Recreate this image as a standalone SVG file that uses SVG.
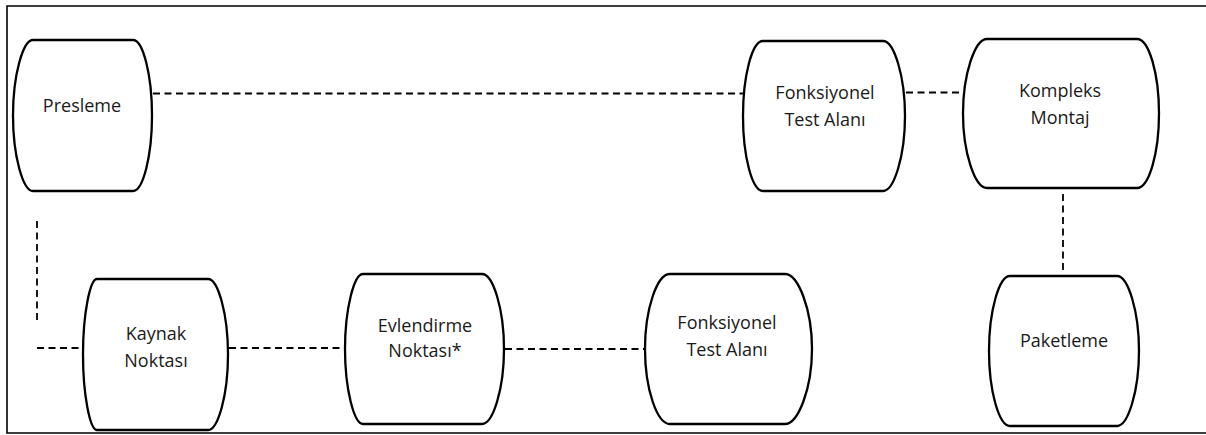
<svg xmlns="http://www.w3.org/2000/svg" width="1206" height="435" viewBox="0 0 1206 435">
<style>
.node{fill:#fff;stroke:#000;stroke-width:2.3;stroke-linejoin:round}
.lbl{font-family:"Open Sans","Noto Sans","Liberation Sans",sans-serif;font-size:18px;fill:#1a1a1a;text-anchor:middle}
.con{fill:none;stroke:#000;stroke-width:1.8;stroke-dasharray:7 4.5}
</style>
<rect x="0" y="0" width="1206" height="435" fill="#fff"/>
<path d="M1210,6 H7 V433 H1210" fill="none" stroke="#000" stroke-width="1.6"/>
<g id="connectors">
<path class="con" d="M153,93.5 H743"/>
<path class="con" d="M906,92.5 H963"/>
<path class="con" d="M1063,194 V273"/>
<path class="con" d="M37,221 V320"/>
<path class="con" d="M37,348 H83"/>
<path class="con" d="M229,348 H345"/>
<path class="con" d="M505,349 H645"/>
</g>
<g id="presleme">
<path class="node" d="M33,40 H133 C143,40 152,75 152,115.5 C152,156 143,191 133,191 H33 C23,191 13,156 13,115.5 C13,75 23,40 33,40 Z"/>
<text class="lbl" x="82" y="112">Presleme</text>
</g>
<g id="fonksiyonel1">
<path class="node" d="M763,41 H883 C894,41 905,76 905,116 C905,156 894,191 883,191 H763 C752,191 743,156 743,116 C743,76 752,41 763,41 Z"/>
<text class="lbl" x="825" y="98.5">Fonksiyonel</text>
<text class="lbl" x="825" y="126">Test Alanı</text>
</g>
<g id="kompleks">
<path class="node" d="M987,39 H1137 C1149,39 1159,74 1159,113.5 C1159,153 1149,188 1137,188 H987 C975,188 963,153 963,113.5 C963,74 975,39 987,39 Z"/>
<text class="lbl" x="1060" y="96.7">Kompleks</text>
<text class="lbl" x="1060" y="124">Montaj</text>
</g>
<g id="paketleme">
<path class="node" d="M1010,276 H1117 C1128,276 1139,311 1139,351 C1139,391 1128,426 1117,426 H1010 C999,426 989,391 989,351 C989,311 999,276 1010,276 Z"/>
<text class="lbl" x="1064" y="346.5">Paketleme</text>
</g>
<g id="kaynak">
<path class="node" d="M97,279 H208 C218,279 228,314 228,354.5 C228,395 218,430 208,430 H97 C90,430 83,395 83,354.5 C83,314 90,279 97,279 Z"/>
<text class="lbl" x="156" y="340">Kaynak</text>
<text class="lbl" x="156" y="366.5">Noktası</text>
</g>
<g id="evlendirme">
<path class="node" d="M363,274 H482 C493,274 504,309 504,349 C504,389 493,424 482,424 H363 C354,424 345,389 345,349 C345,309 354,274 363,274 Z"/>
<text class="lbl" x="425" y="331.5">Evlendirme</text>
<text class="lbl" x="425" y="357">Noktası*</text>
</g>
<g id="fonksiyonel2">
<path class="node" d="M670,274 H785 C798,274 812,309 812,349 C812,389 798,424 785,424 H670 C657,424 645,389 645,349 C645,309 657,274 670,274 Z"/>
<text class="lbl" x="727" y="328.5">Fonksiyonel</text>
<text class="lbl" x="727" y="356">Test Alanı</text>
</g>
</svg>
